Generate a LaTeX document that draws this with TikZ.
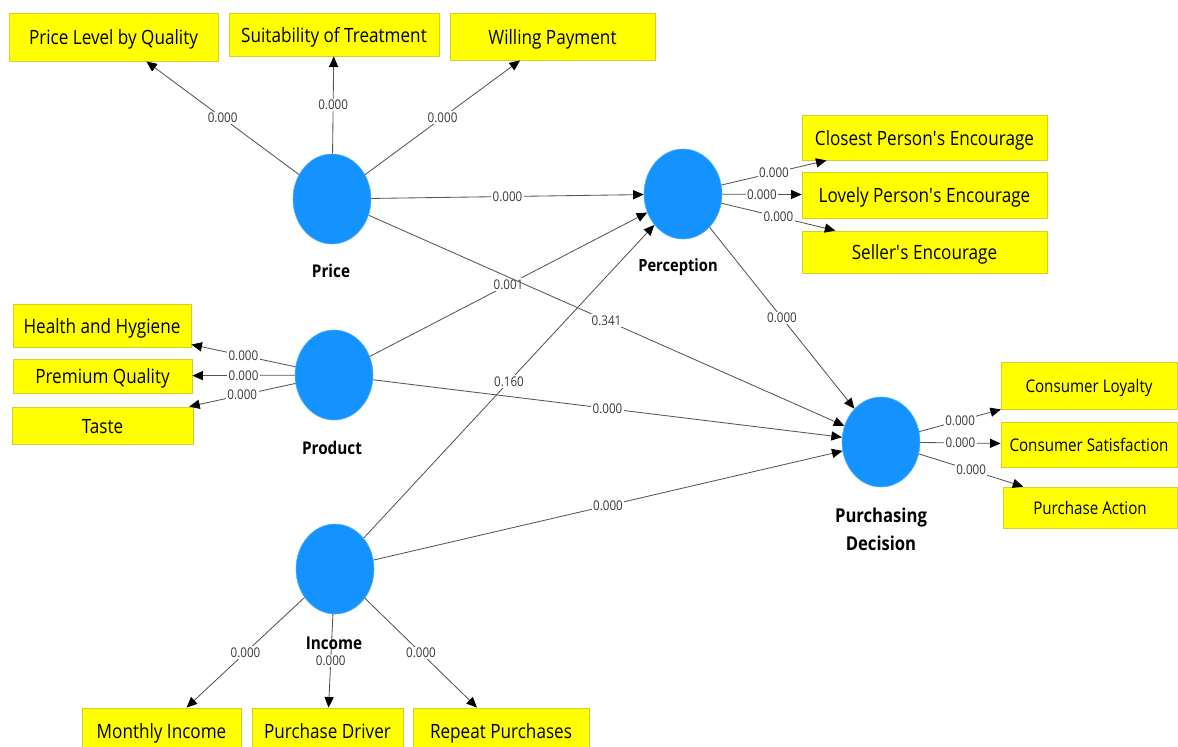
\documentclass[tikz,border=0pt]{standalone}
\usepackage{fontspec}
\setmainfont{Open Sans}[FakeStretch=0.87]
\usetikzlibrary{shapes.geometric,arrows.meta}
\definecolor{cblue}{RGB}{20,147,255}
\definecolor{byel}{RGB}{255,255,0}
\definecolor{bedge}{RGB}{215,205,40}
\definecolor{lgray}{RGB}{55,55,60}
\definecolor{lline}{RGB}{85,85,85}
\tikzset{
  construct/.style={ellipse,fill=cblue,draw=cblue!70!white,line width=0.4pt,minimum width=1.95cm,minimum height=2.25cm,inner sep=0pt},
  cname/.style={font=\fontsize{12.5}{19}\selectfont\bfseries,align=center,inner sep=0pt},
  ind/.style 2 args={rectangle,fill=byel,draw=bedge,line width=0.6pt,inner sep=0pt,minimum width=#1*0.025cm,minimum height=#2*0.025cm,font=\fontsize{14}{16}\selectfont,text height=11pt,text depth=0pt},
  small/.style={font=\fontsize{12.4}{14}\selectfont,text height=10pt},
  link/.style={draw=lline,line width=0.6pt,-{Triangle[length=7.5pt,width=6.5pt,color=black]}},
  lbl/.style={fill=white,text=lgray,font=\fontsize{9.5}{10}\selectfont,inner sep=1pt}
}
\begin{document}
\begin{tikzpicture}[x=0.025cm,y=-0.025cm]
\path[use as bounding box,fill=white] (0,0) rectangle (1178,746);
% constructs
\node[construct] (price) at (332,199) {};
\node[construct] (prod) at (334,375) {};
\node[construct] (inc) at (335,569) {};
\node[construct] (perc) at (683,194) {};
\node[construct] (pd) at (881,442) {};
\node[cname] (priceL) at (331,271) {Price};
\node[cname] (prodL) at (332,448) {Product};
\node[cname,font=\fontsize{12}{19}\selectfont\bfseries] (percL) at (678,267) {Perception};
\node[cname,font=\fontsize{13.6}{19.5}\selectfont\bfseries] (pdL) at (881,529.5) {Purchasing\\Decision};
% indicators
\node[ind={209}{48}] (plq) at (113.5,37) {Price Level by Quality};
\node[ind={210}{43}] (sot) at (334,34.5) {Suitability of Treatment};
\node[ind={205}{47}] (wp) at (552.5,36.5) {Willing Payment};
\node[ind={245}{45}] (cpe) at (924.5,137.5) {Closest Person\textquotesingle s Encourage};
\node[ind={245}{46}] (lpe) at (924.5,195) {Lovely Person\textquotesingle s Encourage};
\node[ind={245}{42}] (se) at (924.5,252) {Seller\textquotesingle s Encourage};
\node[ind={178}{43}] (hh) at (102,325.5) {Health and Hygiene};
\node[ind={179}{34}] (pq) at (102.5,376) {Premium Quality};
\node[ind={181}{37}] (ta) at (102.5,425.5) {Taste};
\node[ind={176}{47},small] (cl) at (1089,385.5) {Consumer Loyalty};
\node[ind={176}{45},small] (cs) at (1089,444.5) {Consumer Satisfaction};
\node[ind={174}{41},small] (pa) at (1090,507.5) {Purchase Action};
\node[ind={159}{46}] (mi) at (161.5,731) {Monthly Income};
\node[ind={151}{46}] (pdr) at (327.5,731) {Purchase Driver};
\node[ind={176}{46}] (rp) at (501,731) {Repeat Purchases};
% outer loadings
\draw[link] (price) -- node[lbl]{0.000} (plq);
\draw[link] (price) -- node[lbl]{0.000} (sot);
\draw[link] (price) -- node[lbl]{0.000} (wp);
\draw[link] (perc) -- node[lbl]{0.000} (cpe);
\draw[link] (perc) -- node[lbl]{0.000} (lpe);
\draw[link] (perc) -- node[lbl]{0.000} (se);
\draw[link] (prod) -- node[lbl]{0.000} (hh);
\draw[link] (prod) -- node[lbl]{0.000} (pq);
\draw[link] (prod) -- node[lbl]{0.000} (ta);
\draw[link] (pd) -- node[lbl]{0.000} (cl);
\draw[link] (pd) -- node[lbl]{0.000} (cs);
\draw[link] (pd) -- node[lbl]{0.000} (pa);
\draw[link] (inc) -- node[lbl]{0.000} (mi);
\draw[link] (inc) -- node[lbl]{0.000} (pdr);
\draw[link] (inc) -- node[lbl]{0.000} (rp);
% structural paths
\draw[link] (price) -- node[lbl]{0.000} (perc);
\draw[link] (prod) -- node[lbl]{0.001} (perc);
\draw[link] (inc) -- node[lbl]{0.160} (perc);
\draw[link] (price) -- node[lbl]{0.341} (pd);
\draw[link] (prod) -- node[lbl]{0.000} (pd);
\draw[link] (inc) -- node[lbl]{0.000} (pd);
\draw[link] (perc) -- node[lbl]{0.000} (pd);
\node[cname] (incL) at (334,643) {Income};
\end{tikzpicture}
\end{document}
